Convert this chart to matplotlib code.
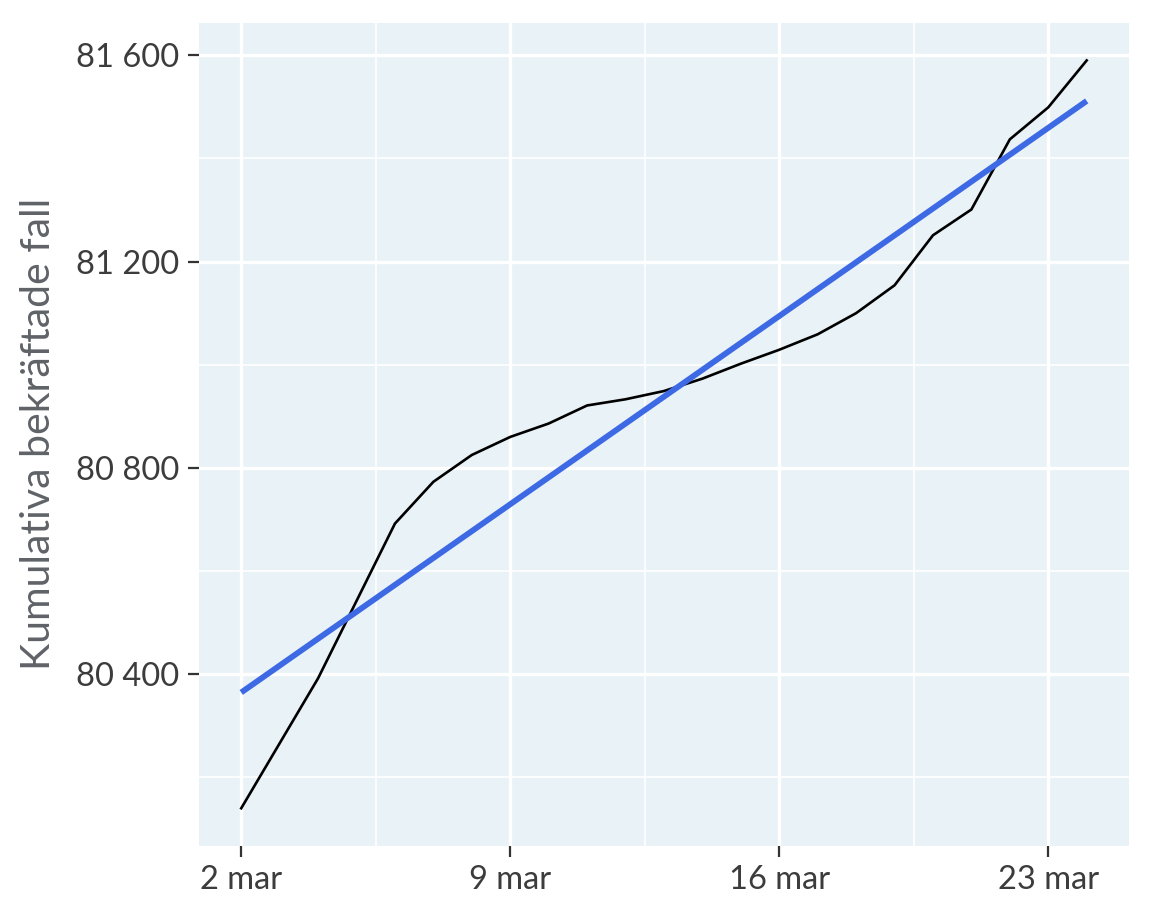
import numpy as np
import pandas as pd
import matplotlib
matplotlib.use("Agg")
import matplotlib.pyplot as plt
import matplotlib.dates as mdates
from matplotlib.ticker import FixedLocator

plt.rcParams['font.family'] = ['Lato', 'DejaVu Sans']

# cumulative confirmed cases, 2 mar .. 24 mar
dates = pd.date_range("2020-03-02", "2020-03-24", freq="D")
cases = [80140, 80266, 80392, 80542, 80692, 80773, 80825, 80860, 80886, 80921,
         80933, 80949, 80973, 81002, 81029, 81059, 81100, 81154, 81251, 81301,
         81437, 81499, 81590]

xtick_dates = pd.to_datetime(["2020-03-02", "2020-03-09", "2020-03-16", "2020-03-23"])
xtick_labels = ["2 mar", "9 mar", "16 mar", "23 mar"]
ytick_vals = [80400, 80800, 81200, 81600]
ytick_minor = [80200, 80600, 81000, 81400]

xnum = mdates.date2num(dates)
slope, icpt = np.polyfit(xnum, cases, 1)
fit = slope * xnum + icpt

fig = plt.figure(figsize=(11.52, 9.22), dpi=100)
ax = fig.add_axes([0.1727, 0.0828, 0.8073, 0.8922])
ax.set_facecolor("#E9F2F6")
for s in ax.spines.values():
    s.set_visible(False)

ax.plot(dates, cases, color="black", lw=1.9, zorder=3)
ax.plot(dates, fit, color="#3D6AE4", lw=4.2, zorder=4, solid_capstyle="butt")

span = xnum[-1] - xnum[0]
ax.set_xlim(xnum[0] - 0.05 * span, xnum[-1] + 0.05 * span)
yr = max(cases) - min(cases)
ax.set_ylim(min(cases) - 0.05 * yr, max(cases) + 0.05 * yr)

ax.set_xticks(xtick_dates)
ax.set_xticklabels(xtick_labels)
minor_x = mdates.date2num(xtick_dates[:-1]) + 3.5
ax.xaxis.set_minor_locator(FixedLocator(minor_x))
ax.set_yticks(ytick_vals)
ax.set_yticklabels([f"{v // 1000} {v % 1000:03d}" for v in ytick_vals])
ax.yaxis.set_minor_locator(FixedLocator(ytick_minor))

ax.grid(which="major", color="white", lw=2.4, zorder=0)
ax.grid(which="minor", color="white", lw=1.2, zorder=0)
ax.set_axisbelow(True)

ax.tick_params(which="major", length=8, width=1.6, color="#333333",
               labelsize=23.5, labelcolor="#3c3c3c", pad=6)
ax.tick_params(which="minor", length=0)

ax.set_ylabel("Kumulativa bekräftade fall", fontsize=29.5, color="#5f6368", labelpad=14)

fig.savefig("out.png", dpi=100)
